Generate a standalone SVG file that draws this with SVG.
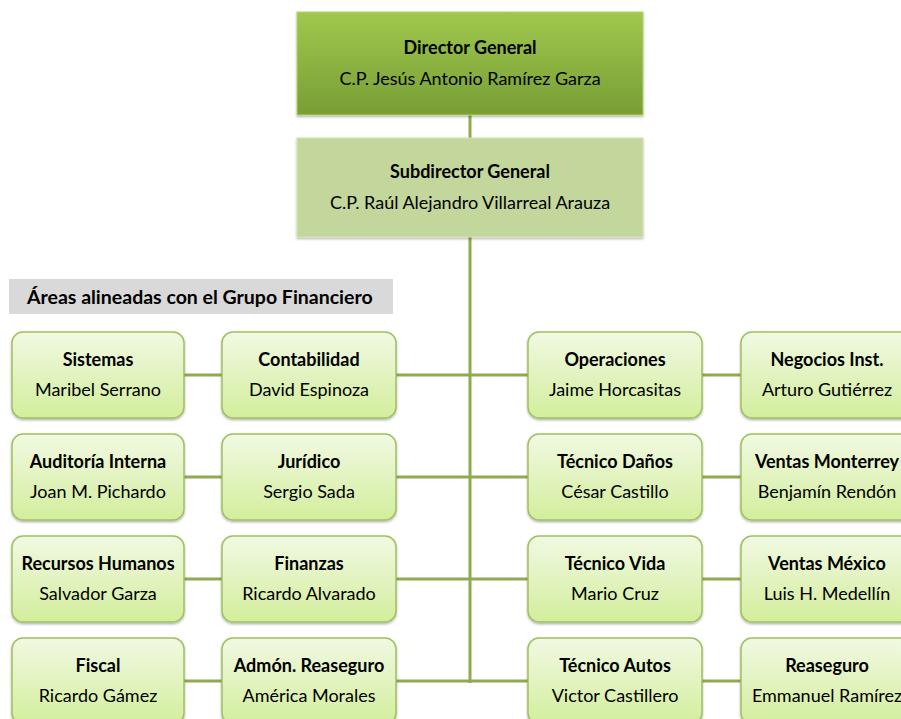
<svg xmlns="http://www.w3.org/2000/svg" width="901" height="719" viewBox="0 0 901 719">
<defs>
<linearGradient id="gDir" x1="0" y1="0" x2="0" y2="1"><stop offset="0" stop-color="#9fc84d"/><stop offset="1" stop-color="#789e35"/></linearGradient>
<linearGradient id="gNode" x1="0" y1="0" x2="0" y2="1"><stop offset="0" stop-color="#f1f9e3"/><stop offset="1" stop-color="#d3ee9c"/></linearGradient>
<filter id="sh" x="-5%" y="-5%" width="110%" height="115%"><feDropShadow dx="0" dy="1.5" stdDeviation="1" flood-color="#000" flood-opacity="0.3"/></filter>
</defs>
<style>
text{font-family:Lato,"Open Sans","Liberation Sans",sans-serif;fill:#000;text-anchor:middle}
.t{font-weight:bold;font-size:18px}
.n{font-size:18px}
.lab{font-weight:bold;font-size:19.5px;text-anchor:start}
.node{fill:url(#gNode);stroke:#9fc15e;stroke-width:1.5}
.ln{stroke:#8eab50;stroke-width:3;fill:none}
</style>
<rect width="901" height="719" fill="#fff"/>
<g id="connectors">
<line class="ln" x1="470" y1="115" x2="470" y2="138"/>
<line class="ln" x1="470" y1="237" x2="470" y2="683"/>
<line class="ln" x1="184" y1="375" x2="741" y2="375"/>
<line class="ln" x1="184" y1="477" x2="741" y2="477"/>
<line class="ln" x1="184" y1="579" x2="741" y2="579"/>
<line class="ln" x1="184" y1="681" x2="741" y2="681"/>
</g>
<g id="director">
<rect x="297" y="12" width="346" height="103" fill="url(#gDir)" stroke="#b3d46d" stroke-width="1" filter="url(#sh)"/>
<text class="t" x="470" y="54">Director General</text>
<text class="n" x="470" y="85">C.P. Jesús Antonio Ramírez Garza</text>
</g>
<g id="subdirector">
<rect x="297" y="138" width="346" height="99" fill="#c3d69b" stroke="#d4e3b3" stroke-width="1" filter="url(#sh)"/>
<text class="t" x="470" y="178">Subdirector General</text>
<text class="n" x="470" y="209">C.P. Raúl Alejandro Villarreal Arauza</text>
</g>
<g id="areas-label">
<rect x="9" y="279" width="384" height="35" fill="#d9d9d9"/>
<text class="lab" x="27" y="304">Áreas alineadas con el Grupo Financiero</text>
</g>
<g id="sistemas"><rect class="node" x="12" y="332" width="172" height="86" rx="11" filter="url(#sh)"/><text class="t" x="98" y="366">Sistemas</text><text class="n" x="98" y="396">Maribel Serrano</text></g>
<g id="contabilidad"><rect class="node" x="222" y="332" width="174" height="86" rx="11" filter="url(#sh)"/><text class="t" x="309" y="366">Contabilidad</text><text class="n" x="309" y="396">David Espinoza</text></g>
<g id="operaciones"><rect class="node" x="528" y="332" width="174" height="86" rx="11" filter="url(#sh)"/><text class="t" x="615" y="366">Operaciones</text><text class="n" x="615" y="396">Jaime Horcasitas</text></g>
<g id="negocios"><rect class="node" x="741" y="332" width="172" height="86" rx="11" filter="url(#sh)"/><text class="t" x="827" y="366">Negocios Inst.</text><text class="n" x="827" y="396">Arturo Gutiérrez</text></g>

<g id="auditoria"><rect class="node" x="12" y="434" width="172" height="86" rx="11" filter="url(#sh)"/><text class="t" x="98" y="468">Auditoría Interna</text><text class="n" x="98" y="498">Joan M. Pichardo</text></g>
<g id="juridico"><rect class="node" x="222" y="434" width="174" height="86" rx="11" filter="url(#sh)"/><text class="t" x="309" y="468">Jurídico</text><text class="n" x="309" y="498">Sergio Sada</text></g>
<g id="tecnico-danos"><rect class="node" x="528" y="434" width="174" height="86" rx="11" filter="url(#sh)"/><text class="t" x="615" y="468">Técnico Daños</text><text class="n" x="615" y="498">César Castillo</text></g>
<g id="ventas-monterrey"><rect class="node" x="741" y="434" width="172" height="86" rx="11" filter="url(#sh)"/><text class="t" x="827" y="468">Ventas Monterrey</text><text class="n" x="827" y="498">Benjamín Rendón</text></g>

<g id="recursos-humanos"><rect class="node" x="12" y="536" width="172" height="86" rx="11" filter="url(#sh)"/><text class="t" x="98" y="570">Recursos Humanos</text><text class="n" x="98" y="600">Salvador Garza</text></g>
<g id="finanzas"><rect class="node" x="222" y="536" width="174" height="86" rx="11" filter="url(#sh)"/><text class="t" x="309" y="570">Finanzas</text><text class="n" x="309" y="600">Ricardo Alvarado</text></g>
<g id="tecnico-vida"><rect class="node" x="528" y="536" width="174" height="86" rx="11" filter="url(#sh)"/><text class="t" x="615" y="570">Técnico Vida</text><text class="n" x="615" y="600">Mario Cruz</text></g>
<g id="ventas-mexico"><rect class="node" x="741" y="536" width="172" height="86" rx="11" filter="url(#sh)"/><text class="t" x="827" y="570">Ventas México</text><text class="n" x="827" y="600">Luis H. Medellín</text></g>

<g id="fiscal"><rect class="node" x="12" y="638" width="172" height="86" rx="11" filter="url(#sh)"/><text class="t" x="98" y="672">Fiscal</text><text class="n" x="98" y="702">Ricardo Gámez</text></g>
<g id="admon-reaseguro"><rect class="node" x="222" y="638" width="174" height="86" rx="11" filter="url(#sh)"/><text class="t" x="309" y="672">Admón. Reaseguro</text><text class="n" x="309" y="702">América Morales</text></g>
<g id="tecnico-autos"><rect class="node" x="528" y="638" width="174" height="86" rx="11" filter="url(#sh)"/><text class="t" x="615" y="672">Técnico Autos</text><text class="n" x="615" y="702">Victor Castillero</text></g>
<g id="reaseguro"><rect class="node" x="741" y="638" width="172" height="86" rx="11" filter="url(#sh)"/><text class="t" x="827" y="672">Reaseguro</text><text class="n" x="827" y="702">Emmanuel Ramírez</text></g>
</svg>
